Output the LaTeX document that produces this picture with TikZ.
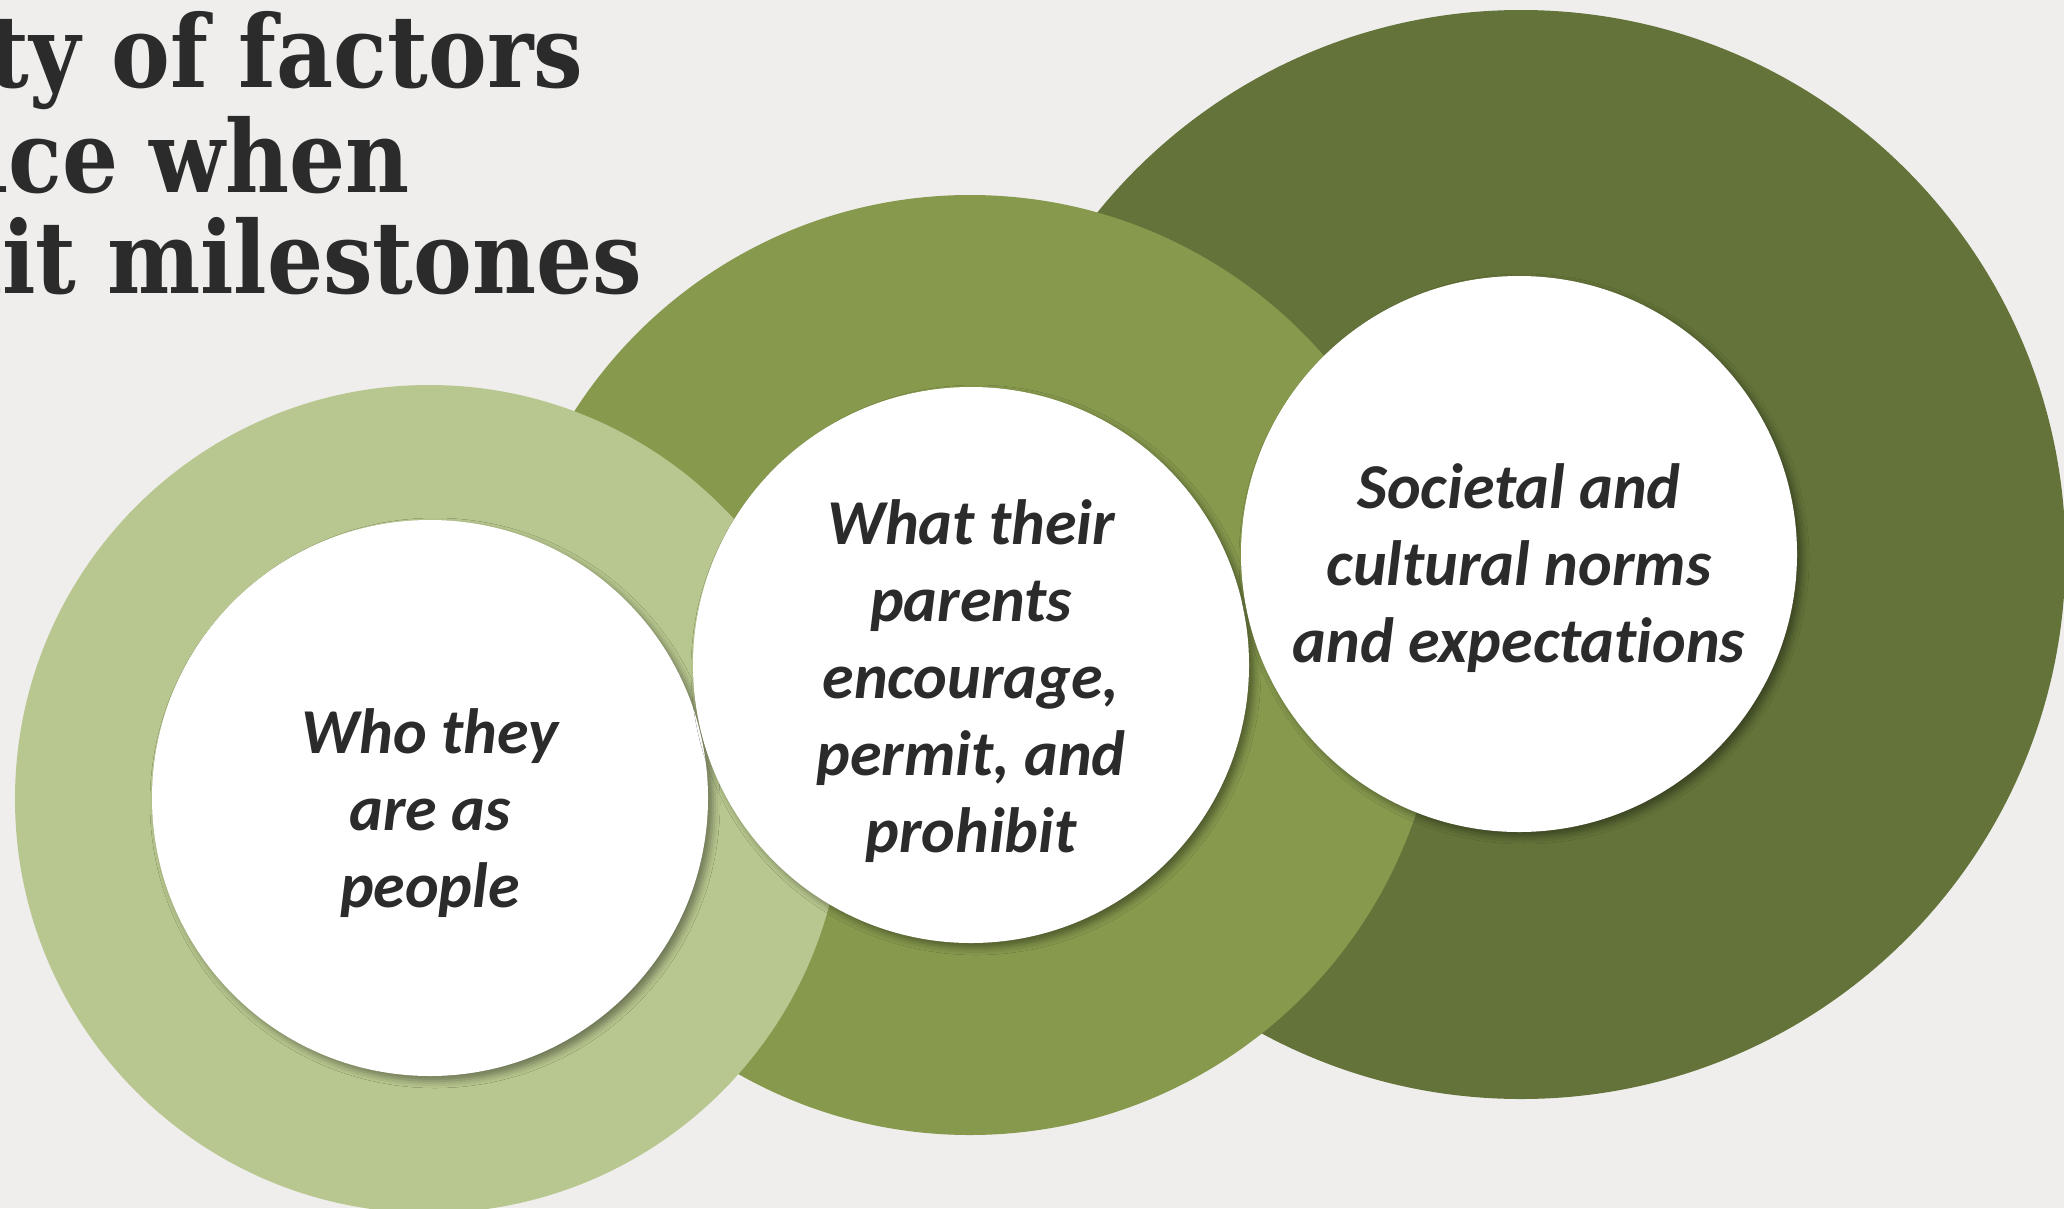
\documentclass[tikz,border=0pt]{standalone}
\usepackage{fontspec}
\usetikzlibrary{shadows.blur}

\setmainfont{Carlito}[Ligatures=NoCommon]
\newfontfamily\titlefont{DejaVu Serif}[FakeStretch=0.88]

\definecolor{bggray}{HTML}{EFEEEC}
\definecolor{darkolive}{HTML}{637339}
\definecolor{midolive}{HTML}{86994D}
\definecolor{paleolive}{HTML}{B8C78F}
\definecolor{inkgray}{HTML}{2B2B2B}

\begin{document}
\begin{tikzpicture}[
		disc/.style = {circle, inner sep=0pt, draw=none},
		hole/.style = {disc, fill=white, minimum size=5.56cm,
			blur shadow={shadow xshift=0.05cm, shadow yshift=-0.05cm, shadow blur radius=0.07cm, shadow opacity=40}},
		factor/.style = {align=center, text=inkgray, font=\fontsize{18.2}{21.9}\selectfont\bfseries\itshape},
		heading/.style = {anchor=base east, inner sep=0pt, text=inkgray, font=\titlefont\fontsize{28.5}{30}\selectfont\bfseries}]

		\fill[bggray] (0,0) rectangle (20.64,12.08);
		\useasboundingbox (0,0) rectangle (20.64,12.08);

		% title, cut by the left edge
		\node[heading] (t1) at (5.84,11.21) {ety of factors};
		\node[heading] (t2) at (4.10,10.16) {nce when};
		\node[heading] (t3) at (6.43,9.15) {nit milestones};

		% coloured rings, back to front
		\node[disc, fill=darkolive, minimum size=10.89cm] (r3) at (15.21,6.535) {};
		\node[disc, fill=midolive, minimum size=9.40cm] (r2) at (9.70,5.43) {};
		\node[disc, fill=paleolive, minimum size=8.28cm] (r1) at (4.29,4.09) {};

		% white centres
		\node[hole] (c1) at (4.30,4.10) {};
		\node[hole] (c2) at (9.71,5.43) {};
		\node[hole] (c3) at (15.19,6.54) {};

		\node[factor] (f1) at ([yshift=-0.15cm]c1) {Who they\\are as\\people};
		\node[factor] (f2) at ([yshift=-0.16cm]c2) {What their\\parents\\encourage,\\permit, and\\prohibit};
		\node[factor] (f3) at ([yshift=-0.14cm]c3) {Societal and\\cultural norms\\and expectations};
\end{tikzpicture}
\end{document}
